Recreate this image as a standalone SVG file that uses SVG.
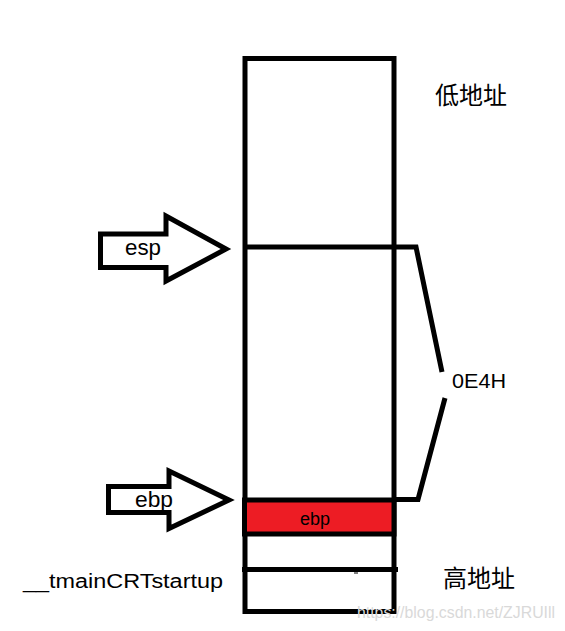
<svg xmlns="http://www.w3.org/2000/svg" width="565" height="631" viewBox="0 0 565 631">
<style>
.ln{stroke:#000;stroke-width:5;fill:none;stroke-linejoin:miter}
.arrow{stroke:#000;stroke-width:5;fill:#fff;stroke-linejoin:miter}
.t{font-family:"Liberation Sans",Arial,sans-serif;fill:#000}
.cjk{font-family:"Noto Sans CJK SC","Liberation Sans",sans-serif;fill:#000}
</style>
<rect width="565" height="631" fill="#fff"/>
<g id="stack">
<rect x="245" y="58.5" width="149" height="553" class="ln"/>
</g>
<g id="ebp-slot">
<rect x="244.5" y="500" width="149.5" height="34" fill="#ed1c24" stroke="#000" stroke-width="5"/>
<text x="315" y="525" class="t" font-size="18" text-anchor="middle">ebp</text>
</g>
<g id="tmain-slot">
<line x1="242" y1="569.5" x2="398" y2="569.5" class="ln" stroke-width="4.5"/>
<line x1="354" y1="573" x2="358" y2="573" stroke="#000" stroke-width="1"/>
<text x="23" y="588" class="t" font-size="20" textLength="200" lengthAdjust="spacingAndGlyphs">__tmainCRTstartup</text>
</g>
<g id="esp-arrow">
<polygon points="100.5,234 166,234 166,216 226,249 166,281 166,267.5 100.5,267.5" class="arrow"/>
<text x="125" y="255" class="t" font-size="22" textLength="36" lengthAdjust="spacingAndGlyphs">esp</text>
</g>
<g id="ebp-arrow">
<polygon points="108.5,486.5 169,486.5 169,471 229,500 169,528.5 169,512.5 108.5,512.5" class="arrow"/>
<text x="135" y="507" class="t" font-size="22" textLength="38" lengthAdjust="spacingAndGlyphs">ebp</text>
</g>
<g id="labels">
<text x="435" y="104" class="cjk" font-size="24">低地址</text>
<text x="443" y="587" class="cjk" font-size="24">高地址</text>
<text x="452" y="388" class="t" font-size="20" textLength="54" lengthAdjust="spacingAndGlyphs">0E4H</text>
</g>
<g id="connectors">
<polyline points="244,247 416,247 442,372" class="ln"/>
<polyline points="396,499.5 418,499.5 445,398" class="ln"/>
</g>
<text x="357" y="618" font-family="'Liberation Sans',Arial,sans-serif" font-size="17" fill="#d9d9d9" textLength="198" lengthAdjust="spacingAndGlyphs">https://blog.csdn.net/ZJRUIll</text>
</svg>
